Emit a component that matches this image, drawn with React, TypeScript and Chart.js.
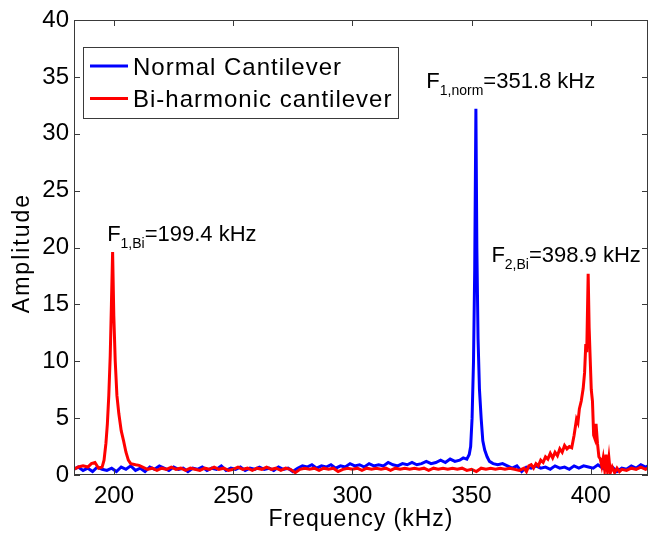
import React, { useEffect, useRef } from 'react';
import { Chart, registerables } from 'chart.js';

Chart.register(...registerables);

// ---- data ----
const xTickValues = [200, 250, 300, 350, 400];
const yTickValues = [0, 5, 10, 15, 20, 25, 30, 35, 40];
const xTitle = 'Frequency (kHz)';
const yTitle = 'Amplitude';
const seriesLabels = ['Normal Cantilever', 'Bi-harmonic cantilever'];
const seriesColors = ['#0000ff', '#ff0000'];

const normalFreq = [
  183, 185, 187, 189, 191, 193, 195, 197, 199, 201,
  203, 205, 207, 209, 211, 213, 215, 217, 219, 221,
  223, 225, 227, 229, 231, 233, 235, 237, 239, 241,
  243, 245, 247, 249, 251, 253, 255, 257, 259, 261,
  263, 265, 267, 269, 271, 273, 275, 277, 279, 281,
  283, 285, 287, 289, 291, 293, 295, 297, 299, 301,
  303, 305, 307, 309, 311, 313, 315, 317, 319, 321,
  323, 325, 327, 329, 331, 333, 335, 337, 339, 341,
  343, 345, 346.5, 348, 349, 349.6, 350.2, 350.8, 351.3, 351.8,
  352.2, 352.7, 353.3, 354, 354.7, 355.5, 356.5, 357.5, 359, 361,
  363, 365, 367, 369, 371, 373, 375, 377, 379, 381,
  383, 385, 387, 389, 391, 393, 395, 397, 399, 401,
  403, 405, 407, 409, 411, 413, 415, 417, 419, 421,
  423, 424,
];
const normalAmp = [
  0.5, 0.7, 0.4, 0.6, 0.3, 0.7, 0.5, 0.4, 0.6, 0.3,
  0.7, 0.5, 0.8, 0.4, 0.6, 0.3, 0.7, 0.5, 0.8, 0.6,
  0.4, 0.7, 0.5, 0.6, 0.3, 0.6, 0.5, 0.7, 0.4, 0.6,
  0.5, 0.8, 0.4, 0.6, 0.5, 0.7, 0.4, 0.6, 0.5, 0.7,
  0.5, 0.6, 0.4, 0.7, 0.5, 0.6, 0.3, 0.6, 0.8, 0.7,
  0.9, 0.6, 0.8, 0.7, 0.9, 0.6, 0.8, 0.7, 1.0, 0.8,
  0.9, 0.7, 1.0, 0.8, 0.9, 0.8, 1.1, 0.9, 0.8, 1.0,
  0.9, 1.1, 0.9, 1.0, 1.2, 1.0, 1.1, 1.3, 1.1, 1.4,
  1.2, 1.3, 1.5, 1.4, 1.8, 2.5, 5.0, 10.0, 18.0, 32.2,
  20.0, 12.0, 7.5, 5.0, 3.0, 2.2, 1.6, 1.2, 1.0, 0.9,
  1.0, 0.8, 0.6, 0.8, 0.3, 0.7, 0.6, 0.8, 0.6, 0.7,
  0.5, 0.8, 0.6, 0.7, 0.5, 0.8, 0.6, 0.8, 0.7, 0.6,
  0.9, 0.6, 0.4, 0.7, 0.3, 0.6, 0.5, 0.8, 0.6, 0.9,
  0.7, 0.8,
];

const biFreq = [
  183, 185, 187, 189, 190.5, 192, 193.5, 195, 195.8, 196.6,
  197.2, 197.8, 198.4, 198.9, 199.4, 199.9, 200.5, 201.2, 202, 203,
  204, 205, 206, 207, 209, 210.5,
  212, 214, 216, 218, 220, 222, 224, 226, 228, 230,
  232, 234, 236, 238, 240, 242, 244, 246, 248, 250,
  252, 254, 256, 258, 260, 262, 264, 266, 268, 270,
  272, 274, 276, 278, 280, 282, 284, 286, 288, 290,
  292, 294, 296, 298, 300, 302, 304, 306, 308, 310,
  312, 314, 316, 318, 320, 322, 324, 326, 328, 330,
  332, 334, 336, 338, 340, 342, 344, 346, 348, 350,
  352, 354, 356, 358, 360, 362, 364, 366, 368,
  370, 372, 373, 374, 375, 376, 377, 378, 379, 380,
  381, 382, 383, 384, 385, 386, 387, 388, 389, 390,
  391, 392, 393, 394, 394.6, 395.2, 396, 396.8, 397.4, 397.9,
  398.3, 398.9, 399.3, 399.7, 400.2, 400.7, 401.2, 401.7, 402.2, 402.8,
  403.4, 404, 404.6, 405.2, 405.8, 406.4, 407, 407.6, 408.2, 409,
  410, 411, 412, 413, 415, 417, 419, 421, 423, 424,
];
const biAmp = [
  0.5, 0.7, 0.8, 0.7, 1.0, 1.1, 0.6, 0.7, 1.3, 2.8,
  4.5, 7.0, 10.5, 15.0, 19.6, 14.0, 10.0, 7.0, 5.4, 3.9,
  3.0, 2.0, 1.3, 1.0, 0.9, 0.85,
  0.7, 0.5, 0.6, 0.4, 0.6, 0.5, 0.7, 0.5, 0.6, 0.4,
  0.6, 0.5, 0.4, 0.6, 0.5, 0.7, 0.5, 0.6, 0.4, 0.5,
  0.7, 0.5, 0.6, 0.4, 0.6, 0.5, 0.7, 0.5, 0.6, 0.4,
  0.6, 0.5, 0.2, 0.5, 0.6, 0.5, 0.6, 0.4, 0.6, 0.5,
  0.6, 0.3, 0.5, 0.6, 0.5, 0.6, 0.4, 0.6, 0.5, 0.6,
  0.5, 0.6, 0.4, 0.6, 0.5, 0.6, 0.5, 0.6, 0.5, 0.6,
  0.4, 0.6, 0.5, 0.6, 0.5, 0.6, 0.5, 0.6, 0.4, 0.5,
  0.3, 0.6, 0.5, 0.6, 0.5, 0.6, 0.5, 0.6, 0.5,
  0.4, 0.6, 0.3, 0.8, 0.9, 0.6, 1.0, 0.8, 1.3, 1.1,
  1.6, 1.4, 1.9, 1.5, 2.0, 1.7, 2.3, 2.0, 2.6, 2.3,
  2.5, 2.4, 3.5, 4.9, 4.6, 5.8, 6.5, 7.6, 9.0, 11.5,
  10.8, 17.7, 13.0, 10.5, 7.5, 6.5, 3.5, 3.2, 4.5, 2.8,
  1.6, 1.4, 0.8, 1.5, 0.5, 1.8, 0.4, 1.5, 0.2, 0.7,
  0.2, 0.6, 0.3, 0.5, 0.4, 0.6, 0.5, 0.7, 0.5, 0.6,
];

// peak labels: main letter, subscript, rest; anchored in data coordinates
const peakLabelMain = ['F', 'F', 'F'];
const peakLabelSub = ['1,Bi', '1,norm', '2,Bi'];
const peakLabelRest = ['=199.4 kHz', '=351.8 kHz', '=398.9 kHz'];
const peakLabelX = [197.1, 331.0, 358.3];
const peakLabelY = [20.6, 34.0, 18.75];

const FONT = '"Liberation Sans", Arial, Helvetica, sans-serif';

const decorPlugin = {
  id: 'decor',
  afterDraw(chart: any) {
    const { ctx, chartArea: a, scales } = chart;
    const xs = scales.x;
    const ys = scales.y;
    ctx.save();
    // axes box
    ctx.strokeStyle = '#3a3a3a';
    ctx.lineWidth = 1;
    ctx.strokeRect(Math.round(a.left) + 0.5, Math.round(a.top) + 0.5, Math.round(a.width) - 1, Math.round(a.height) - 1);
    // inward ticks
    const tl = 6;
    ctx.beginPath();
    xTickValues.forEach((v) => {
      const px = Math.round(xs.getPixelForValue(v)) + 0.5;
      ctx.moveTo(px, a.bottom);
      ctx.lineTo(px, a.bottom - tl);
      ctx.moveTo(px, a.top);
      ctx.lineTo(px, a.top + tl);
    });
    yTickValues.forEach((v) => {
      const py = Math.round(ys.getPixelForValue(v)) + 0.5;
      ctx.moveTo(a.left, py);
      ctx.lineTo(a.left + tl, py);
      ctx.moveTo(a.right, py);
      ctx.lineTo(a.right - tl, py);
    });
    ctx.stroke();

    // legend
    const lx = 83, ly = 47, lw = 315, lh = 71;
    ctx.fillStyle = '#ffffff';
    ctx.fillRect(lx, ly, lw, lh);
    ctx.strokeStyle = '#3a3a3a';
    ctx.strokeRect(lx + 0.5, ly + 0.5, lw, lh);
    const rowY = [66, 98.5];
    chart.data.datasets.forEach((ds: any, i: number) => {
      ctx.strokeStyle = ds.borderColor;
      ctx.lineWidth = 3;
      ctx.beginPath();
      ctx.moveTo(90, rowY[i]);
      ctx.lineTo(128, rowY[i]);
      ctx.stroke();
      ctx.fillStyle = '#000';
      ctx.font = `24px ${FONT}`;
      (ctx as any).letterSpacing = '1px';
      ctx.textBaseline = 'alphabetic';
      ctx.textAlign = 'left';
      ctx.fillText(ds.label, 133, rowY[i] + 8.5);
      (ctx as any).letterSpacing = '0px';
    });

    // peak labels
    ctx.fillStyle = '#000';
    ctx.textAlign = 'left';
    ctx.textBaseline = 'alphabetic';
    peakLabelMain.forEach((m, i) => {
      let px = xs.getPixelForValue(peakLabelX[i]);
      const py = ys.getPixelForValue(peakLabelY[i]);
      ctx.font = `22px ${FONT}`;
      ctx.fillText(m, px, py);
      px += ctx.measureText(m).width;
      ctx.font = `14px ${FONT}`;
      ctx.fillText(peakLabelSub[i], px, py + 7);
      px += ctx.measureText(peakLabelSub[i]).width;
      ctx.font = `22px ${FONT}`;
      ctx.fillText(peakLabelRest[i], px, py);
    });

    // axis titles
    ctx.font = `23px ${FONT}`;
    (ctx as any).letterSpacing = '1px';
    ctx.textAlign = 'center';
    ctx.fillText(xTitle, (a.left + a.right) / 2, 526);
    ctx.save();
    ctx.translate(29, 253);
    ctx.rotate(-Math.PI / 2);
    (ctx as any).letterSpacing = '2px';
    ctx.fillText(yTitle, 0, 0);
    ctx.restore();
    (ctx as any).letterSpacing = '0px';
    ctx.restore();
  },
};

export default function App() {
  const ref = useRef<HTMLCanvasElement | null>(null);
  useEffect(() => {
    if (!ref.current) return;
    const tickFont = { family: FONT, size: 24 };
    const chart = new Chart(ref.current, {
      type: 'line',
      data: {
        datasets: [
          {
            label: seriesLabels[0],
            data: normalFreq.map((f, i) => ({ x: f, y: normalAmp[i] })),
            borderColor: seriesColors[0],
            backgroundColor: seriesColors[0],
            borderWidth: 3,
            pointRadius: 0,
            tension: 0,
            order: 1,
          },
          {
            label: seriesLabels[1],
            data: biFreq.map((f, i) => ({ x: f, y: biAmp[i] })),
            borderColor: seriesColors[1],
            backgroundColor: seriesColors[1],
            borderWidth: 3,
            pointRadius: 0,
            tension: 0,
            order: 0,
          },
        ],
      },
      options: {
        responsive: false,
        animation: false,
        events: [],
        layout: { padding: { top: 20, right: 8, left: 0, bottom: 0 } },
        plugins: { legend: { display: false }, tooltip: { enabled: false } },
        scales: {
          x: {
            type: 'linear',
            min: 183.2,
            max: 424,
            grid: { display: false, drawTicks: false },
            border: { display: false },
            afterBuildTicks: (s: any) => {
              s.ticks = xTickValues.map((v) => ({ value: v }));
            },
            afterFit: (s: any) => {
              s.height = 63;
            },
            ticks: {
              font: tickFont,
              color: '#000',
              padding: 7,
              maxRotation: 0,
              autoSkip: false,
              callback: (v: any) => String(v),
            },
          },
          y: {
            type: 'linear',
            min: 0,
            max: 40,
            grid: { display: false, drawTicks: false },
            border: { display: false },
            afterBuildTicks: (s: any) => {
              s.ticks = yTickValues.map((v) => ({ value: v }));
            },
            afterFit: (s: any) => {
              s.width = 74;
            },
            ticks: {
              font: tickFont,
              color: '#000',
              padding: 5,
              autoSkip: false,
              callback: (v: any) => String(v),
            },
          },
        },
      } as any,
      plugins: [decorPlugin],
    });
    return () => chart.destroy();
  }, []);
  return (
    <div style={{ position: 'absolute', left: 0, top: 0, width: 656, height: 538, background: '#fff' }}>
      <canvas ref={ref} width={656} height={538} style={{ display: 'block' }} />
    </div>
  );
}
